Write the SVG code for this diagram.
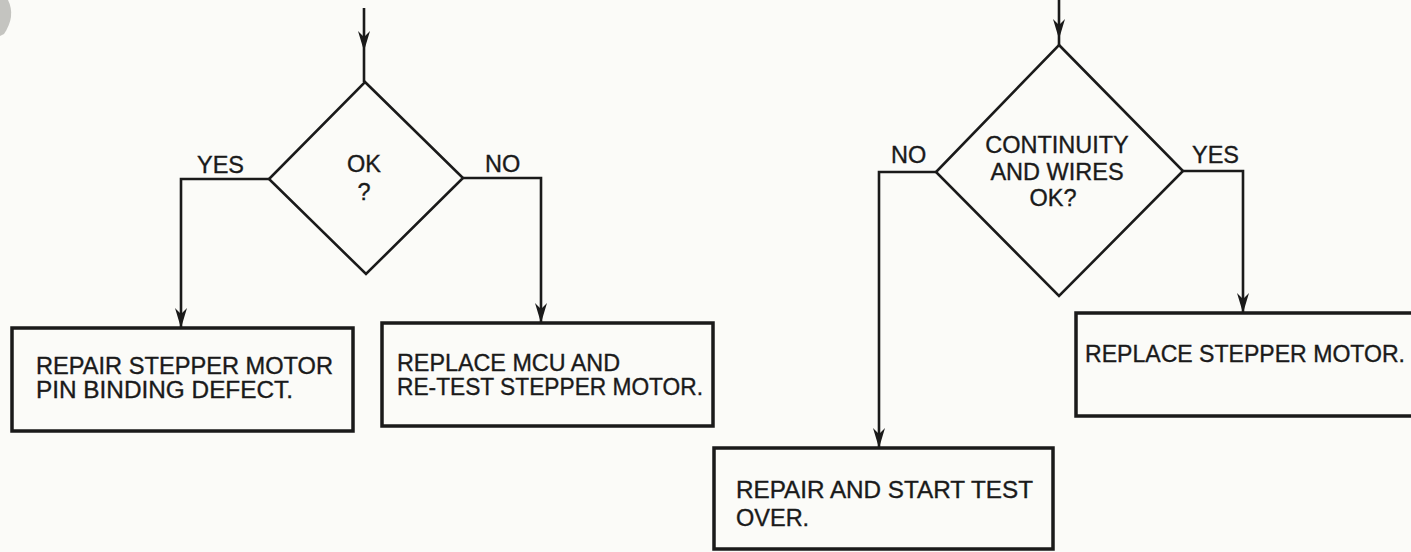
<svg xmlns="http://www.w3.org/2000/svg" width="1411" height="552" viewBox="0 0 1411 552">
  <style>
    .box { fill: none; stroke: #1a1a1a; stroke-width: 3.5; }
    .dia { fill: none; stroke: #1a1a1a; stroke-width: 2.6; stroke-linejoin: miter; }
    .con { fill: none; stroke: #1a1a1a; stroke-width: 2.6; }
    .t { font-family: "Liberation Sans", Arial, sans-serif; font-size: 23.5px; fill: #1a1a1a; stroke: #1a1a1a; stroke-width: 0.35; }
    .c { text-anchor: middle; }
  </style>
  <defs>
    <marker id="arrd" markerUnits="userSpaceOnUse" markerWidth="20" markerHeight="14" viewBox="0 0 20 14" refX="19" refY="7" orient="auto">
      <path d="M0,1 L6,7 L0,13 L20,7 Z" fill="#1a1a1a"/>
    </marker>
  </defs>
  <rect width="1411" height="552" fill="#fbfbf8"/>
  <path d="M0,0 L8,0 Q16,16 4,34 L0,36 Z" fill="#c4c4c0"/>

  <g id="connectors">
    <path class="con" d="M364,8 L364,50 L364,82" marker-mid="url(#arrd)"/>
    <path class="con" d="M269,179 H181 V327" marker-end="url(#arrd)"/>
    <path class="con" d="M463,178 H541 V322" marker-end="url(#arrd)"/>
    <path class="con" d="M1059,0 L1059,38 L1059,45" marker-mid="url(#arrd)"/>
    <path class="con" d="M936,172 H879 V447" marker-end="url(#arrd)"/>
    <path class="con" d="M1183,171 H1243 V312" marker-end="url(#arrd)"/>
  </g>

  <g id="labels">
    <text class="t" x="197" y="173">YES</text>
    <text class="t" x="485" y="172">NO</text>
    <text class="t" x="891" y="163">NO</text>
    <text class="t" x="1192" y="163">YES</text>
  </g>

  <g id="decision-ok">
    <polygon class="dia" points="365,82 463,178 366,274 269,179"/>
    <text class="t c" x="364" y="172">OK</text>
    <text class="t c" x="364" y="200">?</text>
  </g>

  <g id="decision-continuity">
    <polygon class="dia" points="1059,45 1183,171 1059,296 936,172"/>
    <text class="t c" x="1057" y="153">CONTINUITY</text>
    <text class="t c" x="1057" y="180">AND WIRES</text>
    <text class="t c" x="1053" y="206">OK?</text>
  </g>

  <g id="box-repair-pin">
    <rect class="box" x="12" y="328" width="341" height="103"/>
    <text class="t" x="36" y="374" textLength="297" lengthAdjust="spacingAndGlyphs">REPAIR STEPPER MOTOR</text>
    <text class="t" x="36" y="398" textLength="257" lengthAdjust="spacingAndGlyphs">PIN BINDING DEFECT.</text>
  </g>

  <g id="box-replace-mcu">
    <rect class="box" x="382" y="323" width="331" height="103"/>
    <text class="t" x="397" y="371" textLength="223" lengthAdjust="spacingAndGlyphs">REPLACE MCU AND</text>
    <text class="t" x="397" y="395" textLength="306" lengthAdjust="spacingAndGlyphs">RE-TEST STEPPER MOTOR.</text>
  </g>

  <g id="box-replace-motor">
    <rect class="box" x="1076" y="313" width="350" height="103"/>
    <text class="t" x="1085" y="362" textLength="320" lengthAdjust="spacingAndGlyphs">REPLACE STEPPER MOTOR.</text>
  </g>

  <g id="box-repair-start">
    <rect class="box" x="714" y="448" width="339" height="101"/>
    <text class="t" x="736" y="498" textLength="297" lengthAdjust="spacingAndGlyphs">REPAIR AND START TEST</text>
    <text class="t" x="736" y="526">OVER.</text>
  </g>
</svg>
